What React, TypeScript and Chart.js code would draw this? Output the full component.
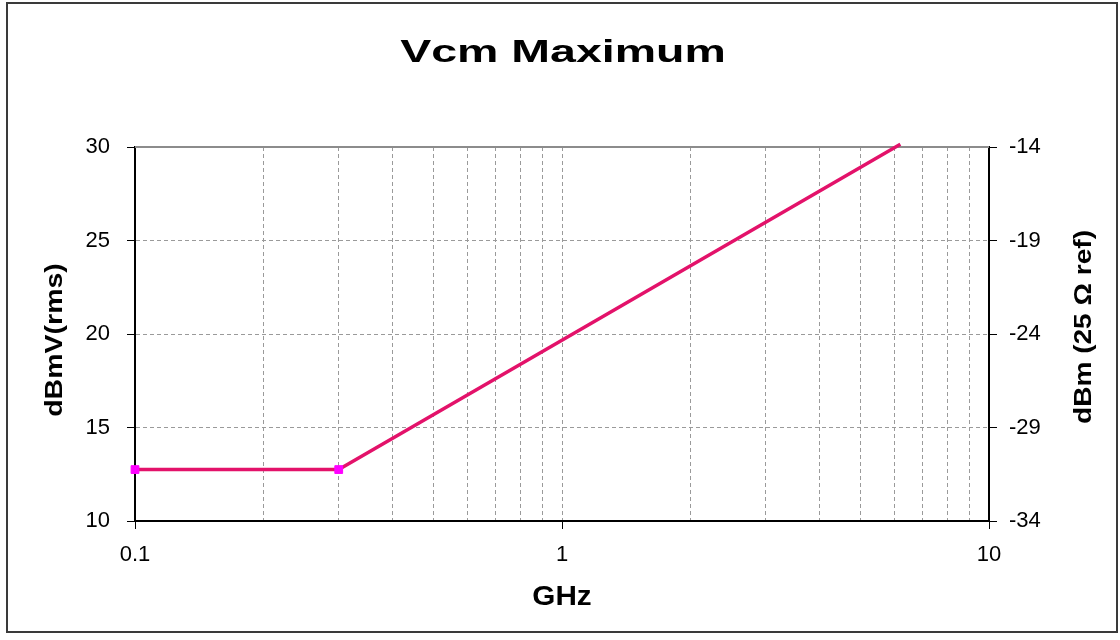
import React, { useEffect, useRef } from "react";
import { Chart, registerables } from "chart.js";

Chart.register(...registerables);

const chartTitle = "Vcm Maximum";
const xAxisTitle = "GHz";
const yAxisTitle = "dBmV(rms)";
const y2AxisTitle = "dBm (25 Ω ref)";

const freqGHz = [0.1, 0.3, 6.2];
const vcmDbmV = [12.75, 12.75, 30.15];
const markerRadii = [5.5, 5.5, 0];

const xTickValues = [
  0.1, 0.2, 0.3, 0.4, 0.5, 0.6, 0.7, 0.8, 0.9,
  1, 2, 3, 4, 5, 6, 7, 8, 9, 10,
];
const xLabeledTicks = [0.1, 1, 10];
const xMin = 0.1;
const xMax = 10;

const yMin = 10;
const yMax = 30;
const yStep = 5;
const y2Min = -34;
const y2Max = -14;
const y2Step = 5;

const FONT = 'Arial, "Liberation Sans", sans-serif';

function stretchedText(
  ctx: CanvasRenderingContext2D,
  text: string,
  x: number,
  y: number,
  font: string,
  sx: number,
  rot: number
) {
  ctx.save();
  ctx.translate(x, y);
  ctx.rotate(rot);
  ctx.scale(sx, 1);
  ctx.font = font;
  ctx.fillStyle = "#000";
  ctx.textAlign = "center";
  ctx.textBaseline = "middle";
  ctx.fillText(text, 0, 0);
  ctx.restore();
}

const decorPlugin = {
  id: "decor",
  beforeDraw(chart: any) {
    const ctx = chart.ctx as CanvasRenderingContext2D;
    ctx.save();
    ctx.fillStyle = "#fff";
    ctx.fillRect(0, 0, chart.width, chart.height);
    ctx.strokeStyle = "#3a3a3a";
    ctx.lineWidth = 2;
    ctx.strokeRect(7, 3, 1110, 629);
    ctx.restore();
  },
  beforeDatasetsDraw(chart: any) {
    const ctx = chart.ctx as CanvasRenderingContext2D;
    const a = chart.chartArea;
    ctx.save();
    ctx.strokeStyle = "#8c8c8c";
    ctx.lineWidth = 2;
    ctx.beginPath();
    ctx.moveTo(a.left, a.top);
    ctx.lineTo(a.right, a.top);
    ctx.stroke();
    ctx.restore();
  },
  afterDraw(chart: any) {
    const ctx = chart.ctx as CanvasRenderingContext2D;
    const a = chart.chartArea;
    const cx = (a.left + a.right) / 2;
    stretchedText(ctx, chartTitle, cx + 1, 53, `bold 31px ${FONT}`, 1.5, 0);
    stretchedText(ctx, xAxisTitle, cx, 598, `bold 27px ${FONT}`, 1.1, 0);
    stretchedText(ctx, yAxisTitle, 56, 340, `bold 23px ${FONT}`, 1.24, -Math.PI / 2);
    stretchedText(ctx, y2AxisTitle, 1085, 327, `bold 23px ${FONT}`, 1.22, -Math.PI / 2);
  },
};

export default function App() {
  const canvasRef = useRef<HTMLCanvasElement | null>(null);

  useEffect(() => {
    if (!canvasRef.current) return;
    const points = freqGHz.map((f, i) => ({ x: f, y: vcmDbmV[i] }));
    const chart = new Chart(canvasRef.current, {
      type: "line",
      data: {
        datasets: [
          {
            label: chartTitle,
            data: points,
            borderColor: "#E3126A",
            borderWidth: 3.5,
            pointStyle: "rect",
            pointRadius: markerRadii,
            pointBackgroundColor: "#FF00FF",
            pointBorderColor: "#FF00FF",
            pointBorderWidth: 1,
            tension: 0,
            fill: false,
            clip: { left: 8, right: 0, top: 6, bottom: 0 } as any,
            yAxisID: "y",
          },
        ],
      },
      options: {
        animation: false,
        responsive: true,
        maintainAspectRatio: false,
        layout: { padding: { top: 147, left: 0, right: 0, bottom: 0 } },
        plugins: {
          legend: { display: false },
          title: { display: false },
          tooltip: { enabled: false },
        },
        scales: {
          x: {
            type: "logarithmic",
            position: "bottom",
            min: xMin,
            max: xMax,
            afterBuildTicks: (scale: any) => {
              scale.ticks = xTickValues.map((v) => ({ value: v }));
            },
            afterFit: (scale: any) => {
              scale.height = 119;
            },
            ticks: {
              autoSkip: false,
              maxRotation: 0,
              minRotation: 0,
              padding: 13,
              color: "#000",
              font: { family: FONT, size: 22 },
              callback: (value: any) =>
                xLabeledTicks.includes(Number(value)) ? String(Number(value)) : "",
            },
            grid: {
              color: "#9a9a9a",
              lineWidth: 1,
              tickLength: 8,
              tickColor: (ctx: any) =>
                ctx.tick && xLabeledTicks.includes(ctx.tick.value) ? "#000" : "rgba(0,0,0,0)",
            },
            border: { display: true, color: "#000", width: 2, dash: [4, 3] },
          },
          y: {
            type: "linear",
            position: "left",
            min: yMin,
            max: yMax,
            afterFit: (scale: any) => {
              scale.width = 135;
            },
            ticks: {
              stepSize: yStep,
              padding: 17,
              color: "#000",
              font: { family: FONT, size: 22 },
            },
            grid: {
              color: (ctx: any) =>
                ctx.tick && (ctx.tick.value === yMax || ctx.tick.value === yMin)
                  ? "rgba(0,0,0,0)"
                  : "#9a9a9a",
              lineWidth: 1,
              tickLength: 8,
              tickColor: "#000",
            },
            border: { display: true, color: "#000", width: 2, dash: [4, 3] },
          },
          y2: {
            type: "linear",
            position: "right",
            min: y2Min,
            max: y2Max,
            afterFit: (scale: any) => {
              scale.width = 131;
            },
            ticks: {
              stepSize: y2Step,
              padding: 12,
              color: "#000",
              font: { family: FONT, size: 22 },
            },
            grid: {
              drawOnChartArea: false,
              tickLength: 8,
              tickColor: "#000",
            },
            border: { display: true, color: "#000", width: 2 },
          },
        },
      },
      plugins: [decorPlugin],
    });
    return () => chart.destroy();
  }, []);

  return (
    <div
      style={{
        position: "absolute",
        left: 0,
        top: 0,
        width: 1120,
        height: 640,
        background: "#fff",
      }}
    >
      <canvas ref={canvasRef} />
    </div>
  );
}
